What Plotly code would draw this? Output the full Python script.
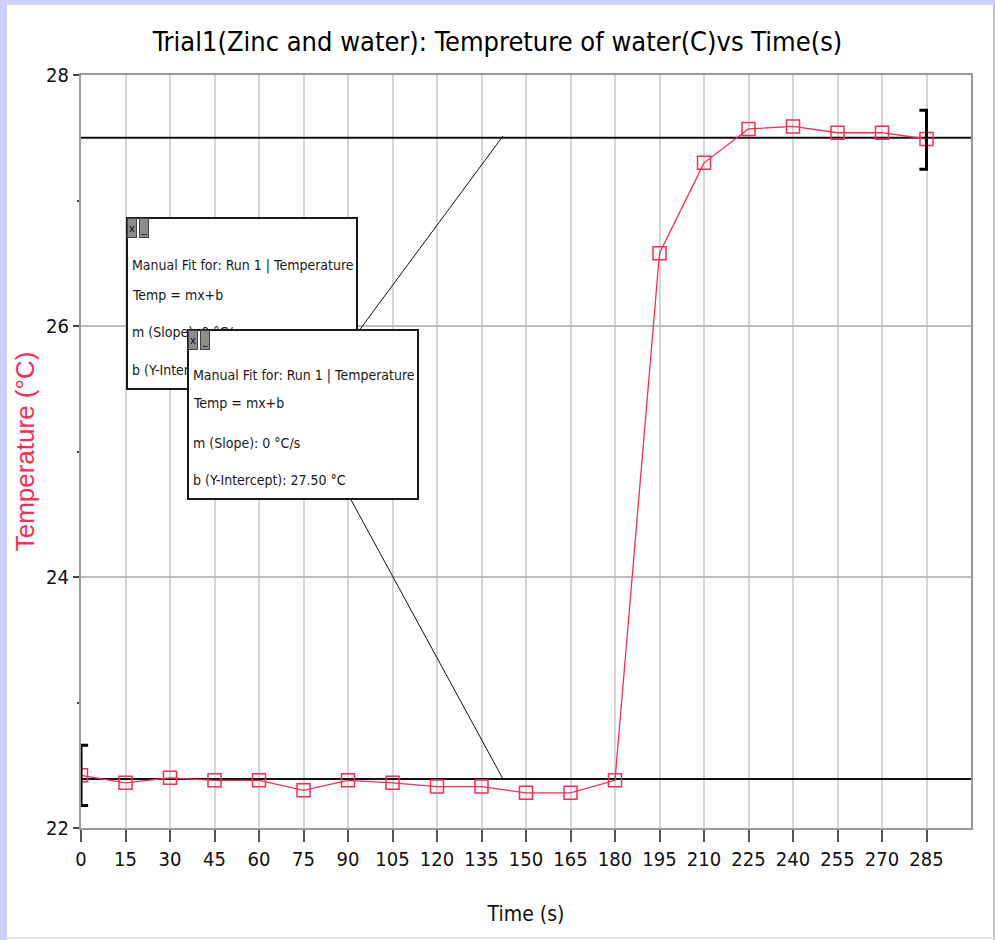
import plotly.graph_objects as go

# ---------------- data ----------------
time_s = [0, 15, 30, 45, 60, 75, 90, 105, 120, 135, 150, 165, 180,
          195, 210, 225, 240, 255, 270, 285]
temp_c = [22.42, 22.36, 22.40, 22.38, 22.38, 22.30, 22.38, 22.36, 22.33,
          22.33, 22.28, 22.28, 22.38, 26.58, 27.30, 27.57, 27.59, 27.54,
          27.54, 27.49]

fit_x = [0, 300]
fit_upper_b = 27.50
fit_lower_b = 22.39

bracket_left_t = 0
bracket_left_range = [22.18, 22.66]
bracket_right_t = 285
bracket_right_range = [27.25, 27.72]

x_tick_vals = [0, 15, 30, 45, 60, 75, 90, 105, 120, 135, 150, 165, 180,
               195, 210, 225, 240, 255, 270, 285]
y_tick_vals = [22, 24, 26, 28]

box_lines_1 = ["Manual Fit for: Run 1 | Temperature", "Temp = mx+b",
               "m (Slope): 0 °C/s", "b (Y-Intercept): 22.39 °C"]
box_lines_2 = ["Manual Fit for: Run 1 | Temperature", "Temp = mx+b",
               "m (Slope): 0 °C/s", "b (Y-Intercept): 27.50 °C"]

# ---------------- layout helpers ----------------
W, H = 995, 940
L, R, T, B = 81, 971, 75, 828
NARROW = "DejaVu Sans Condensed, Liberation Sans Narrow, Liberation Sans, sans-serif"
RED = "#ff2a55"


def px_x(px):
    return (px - L) / (R - L)


def px_y(py):
    return (B - py) / (B - T)


fig = go.Figure()

# fit lines
fig.add_trace(go.Scatter(x=fit_x, y=[fit_upper_b] * 2, mode="lines",
                         line=dict(color="#111", width=2), hoverinfo="skip"))
fig.add_trace(go.Scatter(x=fit_x, y=[fit_lower_b] * 2, mode="lines",
                         line=dict(color="#111", width=2), hoverinfo="skip"))

# data series
fig.add_trace(go.Scatter(x=time_s, y=temp_c, mode="lines+markers",
                         line=dict(color=RED, width=1.3),
                         marker=dict(symbol="square-open", size=13,
                                     color=RED, line=dict(width=1.5, color=RED))))

# range brackets
serif = 2.4
fig.add_trace(go.Scatter(
    x=[bracket_left_t + serif, bracket_left_t, bracket_left_t, bracket_left_t + serif],
    y=[bracket_left_range[0], bracket_left_range[0], bracket_left_range[1], bracket_left_range[1]],
    mode="lines", line=dict(color="#000", width=3), cliponaxis=False, hoverinfo="skip"))
fig.add_trace(go.Scatter(
    x=[bracket_right_t - serif, bracket_right_t, bracket_right_t, bracket_right_t - serif],
    y=[bracket_right_range[0], bracket_right_range[0], bracket_right_range[1], bracket_right_range[1]],
    mode="lines", line=dict(color="#000", width=3), hoverinfo="skip"))

shapes = [
    # page decoration
    dict(type="rect", xref="paper", yref="paper", x0=px_x(0), x1=px_x(7),
         y0=px_y(H), y1=px_y(0), fillcolor="#cfcfff", line=dict(width=0), layer="below"),
    dict(type="rect", xref="paper", yref="paper", x0=px_x(0), x1=px_x(W),
         y0=px_y(5), y1=px_y(0), fillcolor="#cfcfff", line=dict(width=0), layer="below"),
    dict(type="line", xref="paper", yref="paper", x0=px_x(994), x1=px_x(994),
         y0=px_y(5), y1=px_y(H), line=dict(color="#c4c4c4", width=2)),
    dict(type="line", xref="paper", yref="paper", x0=px_x(7), x1=px_x(W),
         y0=px_y(938), y1=px_y(938), line=dict(color="#e4e4e4", width=2)),
    # connector lines from fit boxes
    dict(type="line", xref="paper", yref="paper", x0=px_x(503), y0=px_y(136),
         x1=px_x(358), y1=px_y(332), line=dict(color="#111", width=1)),
    dict(type="line", xref="paper", yref="paper", x0=px_x(350), y0=px_y(498),
         x1=px_x(503), y1=px_y(779), line=dict(color="#111", width=1)),
]

annotations = []


def add_box(x0, y0, x1, y1, lines, line_ys):
    annotations.append(dict(xref="paper", yref="paper", x=px_x(x0), y=px_y(y0),
                            xanchor="left", yanchor="top", showarrow=False, text=" ",
                            width=x1 - x0 - 4, height=y1 - y0 - 4, bgcolor="white",
                            bordercolor="#1a1a1a", borderwidth=2, borderpad=0))
    for txt, ly in zip(lines, line_ys):
        annotations.append(dict(xref="paper", yref="paper", x=px_x(x0 + 4), y=px_y(ly),
                                xanchor="left", yanchor="middle", showarrow=False,
                                text=txt, font=dict(family=NARROW, size=14, color="#1a1a1a")))
    for bx, label in ((x0 + 1, "x"), (x0 + 13, "_")):
        annotations.append(dict(xref="paper", yref="paper", x=px_x(bx), y=px_y(y0 + 1),
                                xanchor="left", yanchor="top", showarrow=False, text=label,
                                width=8, height=18, bgcolor="#8c8c8c", bordercolor="#444",
                                borderwidth=1, borderpad=0,
                                font=dict(family=NARROW, size=11, color="#111")))


add_box(126, 217, 358, 390, box_lines_1, [265, 295, 332, 370])
add_box(187, 329, 419, 500, box_lines_2, [375, 403, 443, 480])

fig.update_layout(
    width=W, height=H,
    margin=dict(l=L, r=W - R, t=T, b=H - B, autoexpand=False),
    paper_bgcolor="white", plot_bgcolor="white",
    showlegend=False,
    title=dict(text="Trial1(Zinc and water): Tempreture of water(C)vs Time(s)",
               x=0.5, xref="container", xanchor="center",
               y=1 - 42 / H, yref="container", yanchor="middle",
               font=dict(family=NARROW, size=27, color="#000")),
    shapes=shapes,
    annotations=annotations,
)

fig.update_xaxes(range=[0, 300], tickvals=x_tick_vals, ticktext=[str(v) for v in x_tick_vals],
                 showgrid=True, gridcolor="#d6d6d6", gridwidth=1.5,
                 showline=True, linecolor="#9a9a9a", linewidth=2, mirror=True,
                 ticks="outside", ticklen=12, tickwidth=2, tickcolor="#555",
                 tickfont=dict(family=NARROW, size=20, color="#111"),
                 automargin=False,
                 title=dict(text="Time (s)", standoff=36,
                            font=dict(family=NARROW, size=21, color="#111")),
                 zeroline=False)
fig.update_yaxes(range=[22, 28], tickvals=y_tick_vals, ticktext=[str(v) for v in y_tick_vals],
                 showgrid=True, gridcolor="#bdbdbd", gridwidth=1.5,
                 showline=True, linecolor="#9a9a9a", linewidth=2, mirror=True,
                 ticks="outside", ticklen=6, tickwidth=2, tickcolor="#444",
                 minor=dict(dtick=1, ticks="outside", ticklen=2, tickcolor="#444", showgrid=False),
                 tickfont=dict(family=NARROW, size=20, color="#111"),
                 automargin=False,
                 title=dict(text="Temperature (°C)", standoff=4,
                            font=dict(family="Liberation Sans, Arial, sans-serif", size=26, color=RED)),
                 zeroline=False)

fig.write_html("out.html", config={"displayModeBar": False},
               post_script="document.body.style.margin='0';document.body.style.overflow='hidden';")
